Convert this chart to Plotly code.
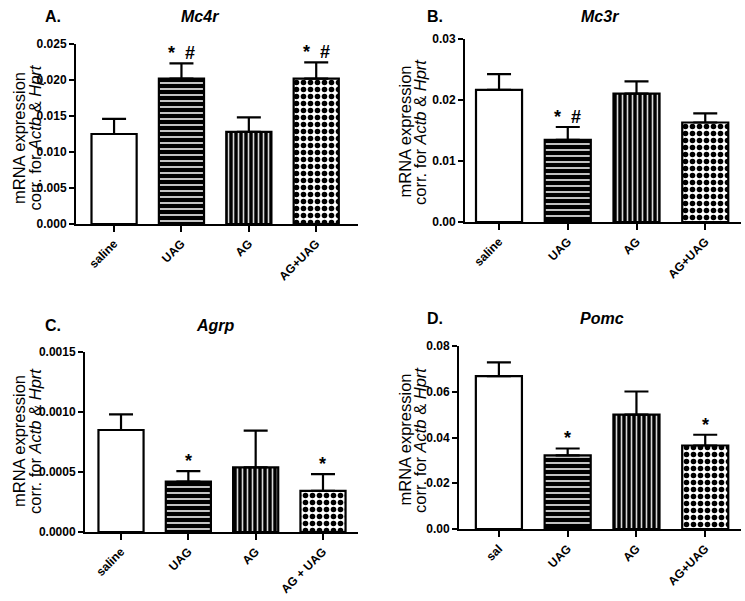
import plotly.graph_objects as go

W, H = 745, 601

# ---------------- data ----------------
groups_A = ["saline", "UAG", "AG", "AG+UAG"]
mc4r_mean = [0.0125, 0.0202, 0.0128, 0.0202]
mc4r_sem = [0.0021, 0.0021, 0.0020, 0.00225]
mc4r_sig = ["", "*\u00a0\u00a0#", "", "*\u00a0\u00a0#"]

groups_B = ["saline", "UAG", "AG", "AG+UAG"]
mc3r_mean = [0.02165, 0.01347, 0.02105, 0.01631]
mc3r_sem = [0.0026, 0.0021, 0.0020, 0.0015]
mc3r_sig = ["", "*\u00a0\u00a0#", "", ""]

groups_C = ["saline", "UAG", "AG", "AG + UAG"]
agrp_mean = [0.00085, 0.000419, 0.000539, 0.000342]
agrp_sem = [0.00013, 0.000089, 0.000305, 0.000141]
agrp_sig = ["", "*", "", "*"]

groups_D = ["sal", "UAG", "AG", "AG+UAG"]
pomc_mean = [0.0668, 0.0322, 0.0500, 0.0365]
pomc_sem = [0.0060, 0.0030, 0.0101, 0.0047]
pomc_sig = ["", "*", "", "*"]

panel_letters = ["A.", "B.", "C.", "D."]
gene_names = ["Mc4r", "Mc3r", "Agrp", "Pomc"]

FONT = "Liberation Sans, Arial, sans-serif"

# styles per bar (saline, UAG, AG, AG+UAG)
pat_shape = ["", "-", "|", "."]
pat_bg = ["white", "black", "black", "white"]
pat_fg = ["white", "#d8d8d8", "#d8d8d8", "black"]
pat_size = [6, 6, 5, 7]
pat_sol = [0.3, 0.3, 0.32, 0.5]

fig = go.Figure()


def px2paper_x(p):
    return p / W


def px2paper_y(p):
    return 1 - p / H


panels = [
    dict(cats=groups_A, mean=mc4r_mean, sem=mc4r_sem, sig=mc4r_sig,
         x0=76, x1=358, y0=44, y1=224, yr=[0, 0.025], dtick=0.005, fmt=".3f",
         xr=[-0.565, 3.62]),
    dict(cats=groups_B, mean=mc3r_mean, sem=mc3r_sem, sig=mc3r_sig,
         x0=465, x1=741, y0=39, y1=222, yr=[0, 0.03], dtick=0.01, fmt=".2f",
         xr=[-0.495, 3.52]),
    dict(cats=groups_C, mean=agrp_mean, sem=agrp_sem, sig=agrp_sig,
         x0=85, x1=358, y0=352, y1=532, yr=[0, 0.0015], dtick=0.0005, fmt=".4f",
         xr=[-0.535, 3.52]),
    dict(cats=groups_D, mean=pomc_mean, sem=pomc_sem, sig=pomc_sig,
         x0=459, x1=741, y0=346, y1=529, yr=[0, 0.08], dtick=0.02, fmt=".2f",
         xr=[-0.58, 3.52]),
]

# title positions (pixels): letter left x, gene center x, y center
title_pos = [(43, 200, 17), (425, 600, 17), (43, 215, 325), (425, 602, 318)]
# y-title line centers: (line1 x, line2 x, y center)
ytitle_pos = [(19, 34.5, 138), (404.5, 420, 132), (19, 35, 441), (404.5, 420, 440)]

annotations = []
for i, p in enumerate(panels):
    n = i + 1
    xa = "x" if n == 1 else f"x{n}"
    ya = "y" if n == 1 else f"y{n}"
    for j in range(len(p["cats"])):
        fig.add_trace(go.Bar(
            x=[j], y=[p["mean"][j]], xaxis=xa, yaxis=ya,
            width=0.67,
            marker=dict(
                color=pat_bg[j],
                line=dict(color="black", width=2.2),
                pattern=dict(shape=pat_shape[j], bgcolor=pat_bg[j], fgcolor=pat_fg[j],
                             size=pat_size[j], solidity=pat_sol[j], fillmode="replace"),
            ),
            error_y=dict(type="data", symmetric=False, array=[p["sem"][j]],
                         arrayminus=[0], color="black", thickness=2.2, width=12),
            showlegend=False, hoverinfo="skip",
        ))
    xkey = "xaxis" if n == 1 else f"xaxis{n}"
    ykey = "yaxis" if n == 1 else f"yaxis{n}"
    fig.layout[xkey] = dict(
        domain=[px2paper_x(p["x0"]), px2paper_x(p["x1"])],
        anchor=ya, range=p["xr"], tickmode="array",
        tickvals=list(range(len(p["cats"]))), ticktext=p["cats"],
        tickangle=-45, ticks="outside", ticklen=6, tickwidth=2, tickcolor="black",
        showline=True, linecolor="black", linewidth=2, showgrid=False, zeroline=False,
        tickfont=dict(family=FONT, size=12, color="black", weight="bold"),
        fixedrange=True, automargin=False,
    )
    fig.layout[ykey] = dict(
        domain=[px2paper_y(p["y1"]), px2paper_y(p["y0"])],
        anchor=xa, range=p["yr"], dtick=p["dtick"], tick0=0, tickformat=p["fmt"],
        ticks="outside", ticklen=5, tickwidth=2, tickcolor="black",
        showline=True, linecolor="black", linewidth=2, showgrid=False, zeroline=False,
        tickfont=dict(family=FONT, size=12, color="black", weight="bold"),
        fixedrange=True, automargin=False,
    )
    # significance marks
    for j, s in enumerate(p["sig"]):
        if s:
            annotations.append(dict(
                x=j, y=p["mean"][j] + p["sem"][j], xref=xa, yref=ya,
                text=s, showarrow=False, yanchor="bottom", xanchor="center",
                yshift=-2,
                font=dict(family=FONT, size=18, color="black", weight="bold"),
            ))
    # panel letter and gene title
    lx, gx, ty = title_pos[i]
    annotations.append(dict(
        x=px2paper_x(lx), y=px2paper_y(ty), xref="paper", yref="paper",
        text=panel_letters[i], showarrow=False, xanchor="left", yanchor="middle",
        font=dict(family=FONT, size=16, color="black", weight="bold"),
    ))
    annotations.append(dict(
        x=px2paper_x(gx), y=px2paper_y(ty), xref="paper", yref="paper",
        text=f"<i>{gene_names[i]}</i>", showarrow=False, xanchor="center",
        yanchor="middle",
        font=dict(family=FONT, size=16, color="black", weight="bold"),
    ))
    # y-axis title in two lines
    l1x, l2x, yc = ytitle_pos[i]
    annotations.append(dict(
        x=px2paper_x(l1x), y=px2paper_y(yc), xref="paper", yref="paper",
        text="mRNA expression", textangle=-90, showarrow=False,
        xanchor="center", yanchor="middle",
        font=dict(family=FONT, size=16.5, color="black"),
    ))
    annotations.append(dict(
        x=px2paper_x(l2x), y=px2paper_y(yc), xref="paper", yref="paper",
        text="corr. for <i>Actb</i> & <i>Hprt</i>", textangle=-90, showarrow=False,
        xanchor="center", yanchor="middle",
        font=dict(family=FONT, size=16.5, color="black"),
    ))

fig.update_layout(
    width=W, height=H, margin=dict(l=0, r=0, t=0, b=0, autoexpand=False),
    paper_bgcolor="white", plot_bgcolor="white",
    annotations=annotations, barmode="overlay",
)

fig.write_html("out.html", config={"displayModeBar": False},
               post_script="document.body.style.margin='0';document.body.style.overflow='hidden';")
